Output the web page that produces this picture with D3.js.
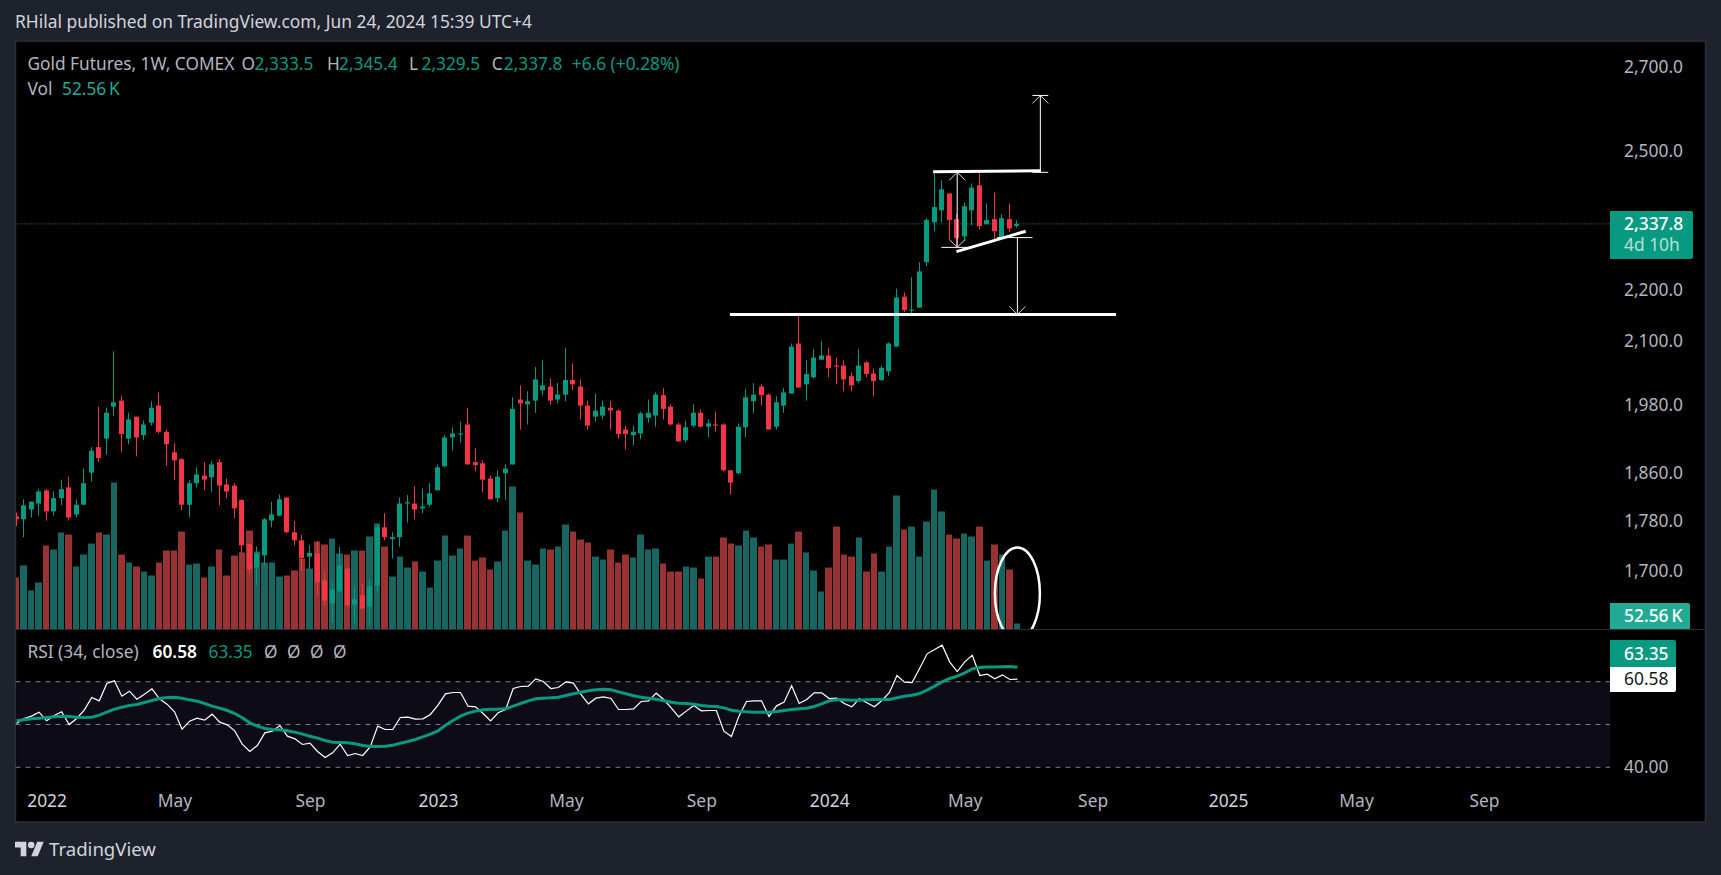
<!DOCTYPE html>
<html>
<head>
<meta charset="utf-8">
<script src="https://cdnjs.cloudflare.com/ajax/libs/d3/7.8.5/d3.min.js"></script>
<style>
  html, body { margin: 0; padding: 0; background: #1e222d; overflow: hidden; }
  text { font-family: "Noto Sans", sans-serif; }
</style>
</head>
<body>
<svg id="chart" width="1721" height="875"></svg>
<script>
// weekly bars, Dec 2021 - Jun 2024
var opens = [1788,1783,1799,1809,1831,1796,1818,1836,1791,1807,
  1861,1905,1920,1977,1988,1920,1959,1926,1948,1979,
  1932,1896,1884,1807,1843,1856,1853,1879,1841,1839,
  1815,1743,1706,1725,1781,1789,1819,1762,1749,1723,
  1728,1686,1651,1669,1704,1649,1663,1646,1678,1770,
  1751,1754,1809,1809,1801,1807,1831,1872,1922,1928,
  1945,1879,1877,1851,1818,1860,1875,1990,1981,1988,
  2007,2014,1990,1999,2026,2014,1979,1959,1961,1975,
  1970,1936,1926,1929,1957,1961,1998,1977,1945,1917,
  1943,1966,1941,1945,1945,1865,1860,1940,1987,2014,
  1999,1941,1979,2001,2095,2018,2031,2064,2072,2053,
  2053,2033,2024,2059,2038,2026,2042,2089,2187,2159,
  2165,2257,2341,2367,2404,2348,2311,2367,2422,2337,
  2348,2309,2348,2333.5];
var highs = [1794,1816,1812,1833,1833,1829,1849,1854,1816,1868,
  1905,1977,1975,2080,1996,1966,1959,1952,1987,2003,
  1936,1912,1886,1848,1870,1879,1881,1884,1851,1843,
  1816,1744,1739,1785,1812,1824,1819,1780,1758,1741,
  1747,1697,1684,1739,1707,1676,1680,1687,1776,1793,
  1762,1819,1823,1838,1834,1843,1875,1926,1940,1950,
  1975,1903,1882,1856,1865,1875,1994,2016,2005,2050,
  2063,2029,2020,2086,2057,2027,1988,2001,1988,1987,
  1972,1943,1943,1968,1990,2003,2011,1981,1948,1952,
  1981,1972,1954,1968,1947,1865,1947,2009,2020,2018,
  2001,1996,2011,2095,2152,2063,2084,2099,2087,2068,
  2063,2040,2084,2061,2047,2053,2097,2203,2195,2226,
  2257,2350,2449,2433,2404,2359,2384,2426,2453,2382,
  2406,2359,2382,2345.4];
var lows = [1772,1754,1786,1789,1781,1789,1806,1781,1786,1807,
  1846,1879,1892,1961,1896,1910,1889,1917,1943,1929,
  1872,1849,1798,1786,1836,1831,1828,1806,1818,1785,
  1728,1695,1678,1709,1770,1788,1760,1741,1700,1703,
  1663,1648,1622,1668,1646,1622,1642,1619,1668,1749,
  1720,1739,1778,1783,1793,1804,1831,1870,1899,1913,
  1875,1863,1828,1816,1811,1815,1875,1936,1945,1966,
  1998,1981,1983,1987,2007,1954,1936,1950,1954,1936,
  1920,1901,1908,1919,1948,1941,1954,1943,1915,1913,
  1940,1940,1922,1932,1863,1824,1858,1922,1965,1979,
  1936,1936,1966,2001,2011,1988,2029,2064,2031,2018,
  2005,2005,2020,2031,1996,2024,2034,2088,2156,2150,
  2165,2249,2322,2341,2305,2286,2301,2335,2326,2337,
  2305,2305,2320,2329.5];
var closes = [1783,1806,1812,1829,1796,1818,1833,1786,1807,1843,
  1899,1886,1966,1985,1928,1954,1922,1945,1975,1932,
  1910,1882,1807,1843,1858,1849,1875,1839,1829,1801,
  1741,1703,1728,1783,1791,1816,1762,1749,1721,1729,
  1683,1655,1672,1709,1648,1657,1643,1677,1770,1754,
  1754,1809,1811,1799,1804,1826,1870,1922,1929,1929,
  1875,1874,1849,1816,1854,1868,1973,1983,1987,2027,
  2016,1988,1999,2026,2018,1979,1943,1970,1977,1970,
  1928,1928,1932,1965,1966,1999,1973,1945,1915,1940,
  1966,1941,1947,1943,1865,1844,1941,1994,1999,1998,
  1936,1985,2003,2089,2012,2037,2068,2072,2048,2051,
  2027,2016,2053,2037,2024,2049,2095,2185,2160,2161,
  2238,2346,2374,2413,2346,2307,2376,2417,2333,2346,
  2322,2350,2328,2337.8];
// volume in thousands
var volumes = [456,561,342,412,736,701,850,832,552,657,
  753,850,832,1288,657,587,552,508,473,587,
  692,692,858,569,578,456,552,701,473,648,
  675,867,683,587,587,464,473,517,622,534,
  771,745,797,666,657,692,692,815,929,727,
  464,639,543,596,508,368,604,823,648,710,
  823,604,631,526,596,867,1253,1025,604,569,
  710,701,727,920,858,788,762,639,613,701,
  587,657,631,832,701,710,578,508,508,552,
  543,447,639,639,806,753,736,867,806,727,
  745,613,613,753,858,675,517,333,543,902,
  657,639,806,508,666,508,727,1174,876,902,
  639,946,1226,1034,832,797,841,815,902,604,
  745,657,526,52.56];
var rsi = [50.23,51.40,51.95,52.88,50.86,52.10,52.96,50.00,51.40,53.35,
  56.31,55.53,59.58,60.20,56.62,57.79,55.92,57.09,58.33,56.00,
  54.75,52.96,48.91,50.78,51.48,51.01,52.41,50.55,49.92,48.52,
  45.40,43.69,45.09,48.05,48.44,49.77,47.27,46.65,45.33,45.64,
  43.69,42.29,43.38,45.40,42.76,43.22,42.76,44.78,49.61,48.83,
  48.83,51.64,51.71,51.25,51.32,52.34,54.52,57.17,57.48,57.48,
  54.28,54.13,52.57,50.86,52.73,53.50,58.41,58.88,58.96,60.67,
  60.05,58.41,58.64,59.97,59.66,57.01,54.83,56.15,56.46,56.07,
  53.50,53.50,53.66,55.37,55.53,57.32,55.84,53.89,51.79,53.12,
  54.44,53.19,53.27,53.27,48.44,47.20,51.95,55.37,55.53,55.53,
  51.87,54.36,55.22,59.03,54.91,55.84,57.40,57.40,56.07,56.15,
  54.91,54.13,56.00,55.06,54.13,55.61,57.48,61.45,59.89,59.81,
  63.08,66.51,67.52,68.54,64.64,62.38,64.64,66.16,61.45,61.76,
  60.67,61.60,60.51,60.58];
var rsiMa = [50.86,51.09,51.32,51.48,51.64,51.79,51.95,51.87,51.71,51.64,
  51.71,52.18,52.88,53.58,54.05,54.44,54.67,55.14,55.61,56.07,
  56.31,56.39,56.15,55.76,55.45,54.91,54.28,53.82,53.27,52.57,
  51.56,50.39,49.61,49.07,48.83,48.75,48.52,48.21,47.74,47.27,
  46.81,46.26,45.87,45.79,45.72,45.48,45.09,44.86,44.86,44.94,
  45.17,45.64,46.03,46.50,47.12,47.74,48.52,49.84,50.93,51.95,
  52.65,53.12,53.43,53.58,53.58,53.66,54.28,54.91,55.53,56.00,
  56.15,56.23,56.39,56.78,57.17,57.55,57.87,58.10,58.26,58.10,
  57.63,57.17,56.70,56.39,56.15,55.92,55.53,55.22,54.98,54.91,
  54.75,54.44,54.28,54.21,53.89,53.35,53.12,52.96,52.88,52.88,
  52.88,53.04,53.27,53.50,53.66,53.82,54.21,54.83,55.53,55.76,
  55.76,55.69,55.69,55.76,55.84,55.84,55.84,56.23,56.62,56.85,
  57.24,58.02,58.96,59.97,60.75,61.29,62.07,63.01,63.30,63.45,
  63.45,63.50,63.55,63.35];

var priceTicks = [1700,1780,1860,1980,2100,2200,2500,2700];
var rsiLevels = [60,50,40];
// bar number of each time label (0 = first bar on the chart)
var timeTicks = [4,21,39,56,73,91,108,126,143,161,178,195];
var timeLabels = ["2022","May","Sep","2023","May","Sep","2024","May","Sep","2025","May","Sep"];

// drawings: bar number / price pairs
var heavyLines = [
  [[94.8,2151.5],[146.1,2151.5]],
  [[121.8,2452],[136.1,2454.5]],
  [[124.9,2279],[134.1,2322]]
];
var thinLines = [
  [[122.9,2451],[127.1,2451]],
  [[122.9,2288],[127.1,2288]],
  [[135,2451],[137.1,2451]],
  [[135,2630],[137.1,2630]],
  [[130.3,2308.6],[135,2308.6]]
];
// arrow: bar, from price, to price
var arrows = [
  {bar:136.05, from:2451, to:2630, heads:["end"]},
  {bar:125, from:2288, to:2451, heads:["start","end"]},
  {bar:133, from:2308.6, to:2151.5, heads:["end"]}
];

var green = "#089981", red = "#f23645";
var W = 1721, H = 875;
var left = 15.5, right = 1705.5, top_ = 41, bottom = 822, axisX = 1610, paneSplit = 629.5;

var svg = d3.select("#chart");
svg.append("rect").attr("width", W).attr("height", H).attr("fill", "#1e222d");
svg.append("rect").attr("x", left).attr("y", top_).attr("width", right-left).attr("height", bottom-top_)
  .attr("fill", "#000").attr("stroke", "#2a2e39").attr("stroke-width", 1.5);

var defs = svg.append("defs");
defs.append("clipPath").attr("id", "plot").append("rect")
  .attr("x", left+.5).attr("y", top_).attr("width", axisX-left).attr("height", paneSplit-top_);

var x = d3.scaleLinear().domain([0,133]).range([16.5,1017.4]);
var y = d3.scaleLog().domain([1700,2700]).range([571.3,66.8]);
var yVol = d3.scaleLinear().domain([0,1288]).range([paneSplit,paneSplit-147]);
var yRsi = d3.scaleLinear().domain([40,60]).range([767.3,681.7]);
var step = x(1)-x(0);

var bars = closes.map(function(c,i){ return {i:i, o:opens[i], h:highs[i], l:lows[i], c:c, v:volumes[i]}; });
function isUp(d){ return d.c >= d.o; }
function bodyLeft(d){ return Math.round(x(d.i)-3); }

var plot = svg.append("g").attr("clip-path", "url(#plot)");

// volume
plot.selectAll(".vol").data(bars).enter().append("rect")
  .attr("class", "vol")
  .attr("x", function(d){ return Math.round(x(d.i)-step/2); })
  .attr("width", function(d){ return Math.round(x(d.i)+step/2)-Math.round(x(d.i)-step/2)-1; })
  .attr("y", function(d){ return yVol(d.v); })
  .attr("height", function(d){ return paneSplit-yVol(d.v); })
  .attr("fill", function(d){ return isUp(d) ? "#19655f" : "#993333"; });

// last price line
plot.append("line").attr("x1", left).attr("x2", axisX)
  .attr("y1", y(2337.8)).attr("y2", y(2337.8))
  .attr("stroke", green).attr("stroke-width", 1).attr("stroke-dasharray", "1,2");

// candles
plot.selectAll(".wick").data(bars).enter().append("rect")
  .attr("class", "wick")
  .attr("x", function(d){ return bodyLeft(d)+2; })
  .attr("width", 1)
  .attr("y", function(d){ return y(d.h); })
  .attr("height", function(d){ return y(d.l)-y(d.h); })
  .attr("fill", function(d){ return isUp(d) ? green : red; });
plot.selectAll(".body").data(bars).enter().append("rect")
  .attr("class", "body")
  .attr("x", bodyLeft)
  .attr("width", 5)
  .attr("y", function(d){ return y(Math.max(d.o,d.c)); })
  .attr("height", function(d){ return Math.max(1, Math.abs(y(d.o)-y(d.c))); })
  .attr("fill", function(d){ return isUp(d) ? green : red; });

// drawings
var line = d3.line().x(function(d){ return x(d[0]); }).y(function(d){ return y(d[1]); });
plot.selectAll(".heavy").data(heavyLines).enter().append("path")
  .attr("d", line).attr("fill", "none").attr("stroke", "#fff").attr("stroke-width", 3);
plot.selectAll(".thin").data(thinLines).enter().append("path")
  .attr("d", line).attr("fill", "none").attr("stroke", "#fff").attr("stroke-width", 1);

function chevron(g, px, py, dir) {
  g.append("path")
    .attr("d", "M"+(px-8)+","+(py+dir*8)+"L"+px+","+py+"L"+(px+8)+","+(py+dir*8))
    .attr("fill", "none").attr("stroke", "#d8d8d8").attr("stroke-width", 1);
}
arrows.forEach(function(a){
  plot.append("line").attr("x1", x(a.bar)).attr("x2", x(a.bar))
    .attr("y1", y(a.from)).attr("y2", y(a.to))
    .attr("stroke", "#fff").attr("stroke-width", 1);
  a.heads.forEach(function(h){
    var p = h == "end" ? a.to : a.from;
    var q = h == "end" ? a.from : a.to;
    chevron(plot, x(a.bar), y(p), y(q) > y(p) ? 1 : -1);
  });
});

// circle around the last volume bar
plot.append("ellipse").attr("cx", x(133)).attr("cy", yVol(315)).attr("rx", 22.5).attr("ry", 46)
  .attr("fill", "none").attr("stroke", "#fff").attr("stroke-width", 2.5);

// pane split
svg.append("line").attr("x1", left).attr("x2", right).attr("y1", paneSplit).attr("y2", paneSplit)
  .attr("stroke", "#2a2e39").attr("stroke-width", 1);

// rsi pane
svg.append("rect").attr("x", left+.75).attr("width", axisX-left-.75)
  .attr("y", yRsi(60)).attr("height", yRsi(40)-yRsi(60)).attr("fill", "#0d0b16");
svg.selectAll(".level").data(rsiLevels).enter().append("line")
  .attr("x1", left).attr("x2", axisX)
  .attr("y1", yRsi).attr("y2", yRsi)
  .attr("stroke", "#787b86").attr("stroke-width", 1).attr("stroke-dasharray", "5,5");
var rsiLine = d3.line().x(function(d,i){ return x(i); }).y(function(d){ return yRsi(d); });
svg.append("path").attr("d", rsiLine(rsi)).attr("fill", "none").attr("stroke", "#fff").attr("stroke-width", 1.2);
svg.append("path").attr("d", rsiLine(rsiMa)).attr("fill", "none").attr("stroke", green).attr("stroke-width", 3);

// price axis
var axisText = "#b2b5be", fs = 17.4;
var yAxis = d3.axisRight(y).tickValues(priceTicks).tickSize(0).tickPadding(0)
  .tickFormat(function(d){ return d3.format(",.1f")(d); });
var yg = svg.append("g").attr("transform", "translate(1624,0)").call(yAxis);
yg.select(".domain").remove();
yg.selectAll("text").attr("fill", axisText).style("font-size", fs+"px").style("font-family", "'Noto Sans', sans-serif");

var rAxis = d3.axisRight(yRsi).tickValues([40]).tickSize(0).tickPadding(0)
  .tickFormat(function(d){ return d3.format(".2f")(d); });
var rg = svg.append("g").attr("transform", "translate(1624,0)").call(rAxis);
rg.select(".domain").remove();
rg.selectAll("text").attr("fill", axisText).style("font-size", fs+"px").style("font-family", "'Noto Sans', sans-serif");

// time axis
var xAxis = d3.axisBottom(x).tickValues(timeTicks).tickSize(0).tickPadding(0)
  .tickFormat(function(d,i){ return timeLabels[i]; });
var xg = svg.append("g").attr("transform", "translate(0,795)").call(xAxis);
xg.select(".domain").remove();
xg.selectAll("text").attr("fill", function(d,i){ return /^20/.test(timeLabels[i]) ? "#d1d4dc" : axisText; })
  .style("font-size", fs+"px").style("font-family", "'Noto Sans', sans-serif");

// value tags on the axis
function tag(y0, y1, w, fill, round) {
  var r = 2, x0 = axisX, x1 = axisX+w;
  svg.append("path").attr("fill", fill).attr("d",
    "M"+x0+","+y0+"L"+(x1-(round[0]?r:0))+","+y0+(round[0]?"Q"+x1+","+y0+" "+x1+","+(y0+r):"")+
    "L"+x1+","+(y1-(round[1]?r:0))+(round[1]?"Q"+x1+","+y1+" "+(x1-r)+","+y1:"")+"L"+x0+","+y1+"Z");
}
function label(px, py, s, fill, size, weight) {
  return svg.append("text").attr("x", px).attr("y", py).attr("dy", ".35em").text(s)
    .attr("fill", fill).style("font-size", (size||fs)+"px").style("font-weight", weight||400);
}
tag(211, 259, 83, green, [1,1]);
label(1624, 224, "2,337.8", "#fff", fs, 500);
label(1624, 245, "4d 10h", "#b5e0d8");
tag(603, 629, 80, "#22ab94", [1,0]);
label(1624, 616, "52.56\u2009K", "#fff", fs, 500);
tag(640, 667, 66, green, [1,0]);
label(1624, 654, "63.35", "#fff", fs, 500);
tag(667, 692, 66, "#fff", [0,1]);
label(1624, 679, "60.58", "#131722");

// title and legends
label(15, 22, "RHilal published on TradingView.com, Jun 24, 2024 15:39 UTC+4", "#d1d4dc", 17.4);
var gray = "#b2b5be", lf = 17.3;
label(27.5, 64, "Gold Futures, 1W, COMEX", gray, lf);
label(241.5, 64, "O", gray, lf); label(254.6, 64, "2,333.5", green, lf);
label(327, 64, "H", gray, lf); label(339, 64, "2,345.4", green, lf);
label(409, 64, "L", gray, lf); label(421.5, 64, "2,329.5", green, lf);
label(491.7, 64, "C", gray, lf); label(503.8, 64, "2,337.8", green, lf);
label(571.8, 64, "+6.6 (+0.28%)", green, lf);
label(27.5, 89, "Vol", gray, lf);
label(62, 89, "52.56\u2009K", "#22ab94", lf);
label(27.5, 652, "RSI (34, close)", gray, lf);
label(152.6, 652, "60.58", "#fff", lf, 600);
label(208.5, 652, "63.35", green, lf);
[264, 287, 310, 333].forEach(function(px){ label(px, 652, "Ø", gray, lf); });

// footer logo
var logo = svg.append("g").attr("transform", "translate(15,838.5) scale(.81)").attr("fill", "#d1d4dc");
logo.append("path").attr("d", "M14 22H7V11H0V4h14v18zM28 22h-8l7.5-18h8L28 22z");
logo.append("circle").attr("cx", 20).attr("cy", 8).attr("r", 4);
label(49, 849, "TradingView", "#d1d4dc", 18.6);
</script>
</body>
</html>
